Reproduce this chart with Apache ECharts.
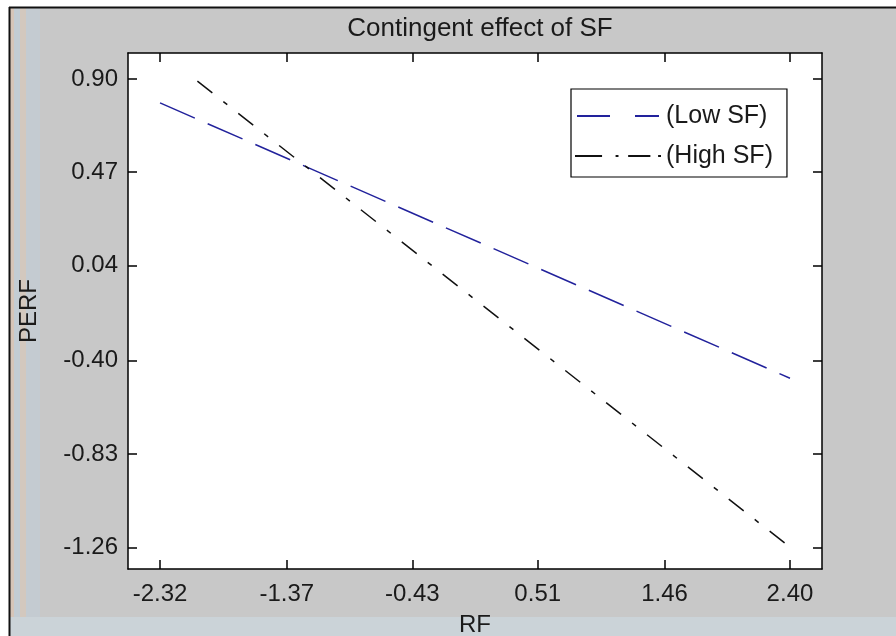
<!DOCTYPE html>
<html>
<head>
<meta charset="utf-8">
<script src="https://cdn.jsdelivr.net/npm/echarts@6/dist/echarts.min.js"></script>
<style>
  html, body { margin: 0; padding: 0; background: #fff; }
  #chart { width: 896px; height: 636px; }
</style>
</head>
<body>
<div id="chart"></div>
<script>
const xTicks = [-2.32, -1.37, -0.43, 0.51, 1.46, 2.40];
const yTicks = [-1.26, -0.83, -0.40, 0.04, 0.47, 0.90];
const lowX = [-2.32, 2.40];
const lowY = [0.79, -0.48];
const highX = [-2.04, 2.36];
const highY = [0.89, -1.24];

const font = 'Liberation Sans, Arial, sans-serif';
const xMin = -2.56, xMax = 2.64;
const yMin = -1.36, yMax = 1.02;

const pairs = (xs, ys) => xs.map((x, i) => [x, ys[i]]);

const mkX = (pos, labels) => ({
    type: 'value',
    position: pos,
    min: xMin,
    max: xMax,
    name: labels ? 'RF' : '',
    nameLocation: 'middle',
    nameGap: 44,
    nameTextStyle: { fontFamily: font, fontSize: 24, color: '#1a1a1a' },
    splitLine: { show: false },
    axisLine: { show: true, onZero: false, lineStyle: { color: '#000', width: 1.5 } },
    axisTick: { show: true, inside: true, length: 9, customValues: xTicks, lineStyle: { color: '#000', width: 1.5 } },
    axisLabel: {
        show: labels,
        customValues: xTicks,
        margin: 13,
        fontFamily: font,
        fontSize: 24,
        color: '#1a1a1a',
        formatter: v => v.toFixed(2)
    }
});

const mkY = (pos, labels) => ({
    type: 'value',
    position: pos,
    min: yMin,
    max: yMax,
    name: labels ? 'PERF' : '',
    nameLocation: 'middle',
    nameGap: 87,
    nameTextStyle: { fontFamily: font, fontSize: 24, color: '#1a1a1a' },
    splitLine: { show: false },
    axisLine: { show: true, onZero: false, lineStyle: { color: '#000', width: 1.5 } },
    axisTick: { show: true, inside: true, length: 9, customValues: yTicks, lineStyle: { color: '#000', width: 1.5 } },
    axisLabel: {
        show: labels,
        customValues: yTicks,
        margin: 10,
        fontFamily: font,
        fontSize: 24,
        color: '#1a1a1a',
        formatter: v => v.toFixed(2)
    }
});

// legend samples drawn as dash patterns
const lowIcon = 'path://M0,0h33v2h-33z M58,0h24v2h-24z';
const highIcon = 'path://M0,0h28v2h-28z M42,0h3v2h-3z M55,0h23v2h-23z M86,0h3v2h-3z';

let chart = echarts.init(document.getElementById('chart'), null, { renderer: 'canvas' });
chart.setOption({
    backgroundColor: '#c8c8c8',
    animation: false,
    title: {
        text: 'Contingent effect of SF',
        left: 475,
        textAlign: 'center',
        top: 11,
        textStyle: { fontFamily: font, fontSize: 26, fontWeight: 'normal', color: '#1a1a1a' }
    },
    legend: {
        orient: 'vertical',
        left: 571,
        top: 89,
        backgroundColor: '#fff',
        borderColor: '#000',
        borderWidth: 1.2,
        borderRadius: 0,
        padding: [14, 14, 8, 4],
        itemWidth: 86,
        itemHeight: 2,
        itemGap: 14,
        textStyle: { fontFamily: font, fontSize: 25, lineHeight: 26, color: '#1a1a1a' },
        data: [
            { name: '(Low SF)', icon: lowIcon },
            { name: '(High SF)', icon: highIcon }
        ]
    },
    grid: {
        left: 128,
        right: 74,
        top: 53,
        bottom: 67,
        containLabel: false,
        outerBoundsMode: 'none',
        show: true,
        backgroundColor: '#fff',
        borderColor: '#000',
        borderWidth: 0
    },
    xAxis: [mkX('bottom', true), mkX('top', false)],
    yAxis: [mkY('left', true), mkY('right', false)],
    series: [
        {
            name: '(Low SF)',
            type: 'line',
            xAxisIndex: 0,
            yAxisIndex: 0,
            symbol: 'none',
            data: pairs(lowX, lowY),
            lineStyle: { color: '#22229c', width: 1.5, type: [38, 14] },
            itemStyle: { color: '#22229c' }
        },
        {
            name: '(High SF)',
            type: 'line',
            xAxisIndex: 0,
            yAxisIndex: 0,
            symbol: 'none',
            data: pairs(highX, highY),
            lineStyle: { color: '#111', width: 1.5, type: [19, 14, 5, 14] },
            itemStyle: { color: '#111' }
        }
    ],
    graphic: [
        // window frame leftovers around the screenshot
        { type: 'rect', left: 0, top: 0, shape: { width: 896, height: 7 }, style: { fill: '#fff' }, silent: true },
        { type: 'rect', left: 0, top: 0, shape: { width: 9, height: 636 }, style: { fill: '#fff' }, silent: true },
        { type: 'rect', left: 10, top: 8, shape: { width: 4, height: 628 }, style: { fill: '#d6c5b8' }, silent: true },
        { type: 'rect', left: 14, top: 8, shape: { width: 6, height: 628 }, style: { fill: '#c3ccd3' }, silent: true },
        { type: 'rect', left: 20, top: 8, shape: { width: 6, height: 628 }, style: { fill: '#d3c8be' }, silent: true },
        { type: 'rect', left: 26, top: 8, shape: { width: 14, height: 628 }, style: { fill: '#c4cbd1' }, silent: true },
        { type: 'rect', left: 10, top: 617, shape: { width: 886, height: 19 }, style: { fill: '#cbd3d8' }, silent: true },
        { type: 'line', shape: { x1: 9, y1: 7.5, x2: 896, y2: 7.5 }, style: { stroke: '#111', lineWidth: 2 }, silent: true },
        { type: 'line', shape: { x1: 9.5, y1: 7, x2: 9.5, y2: 636 }, style: { stroke: '#111', lineWidth: 2 }, silent: true }
    ]
});
</script>
</body>
</html>
